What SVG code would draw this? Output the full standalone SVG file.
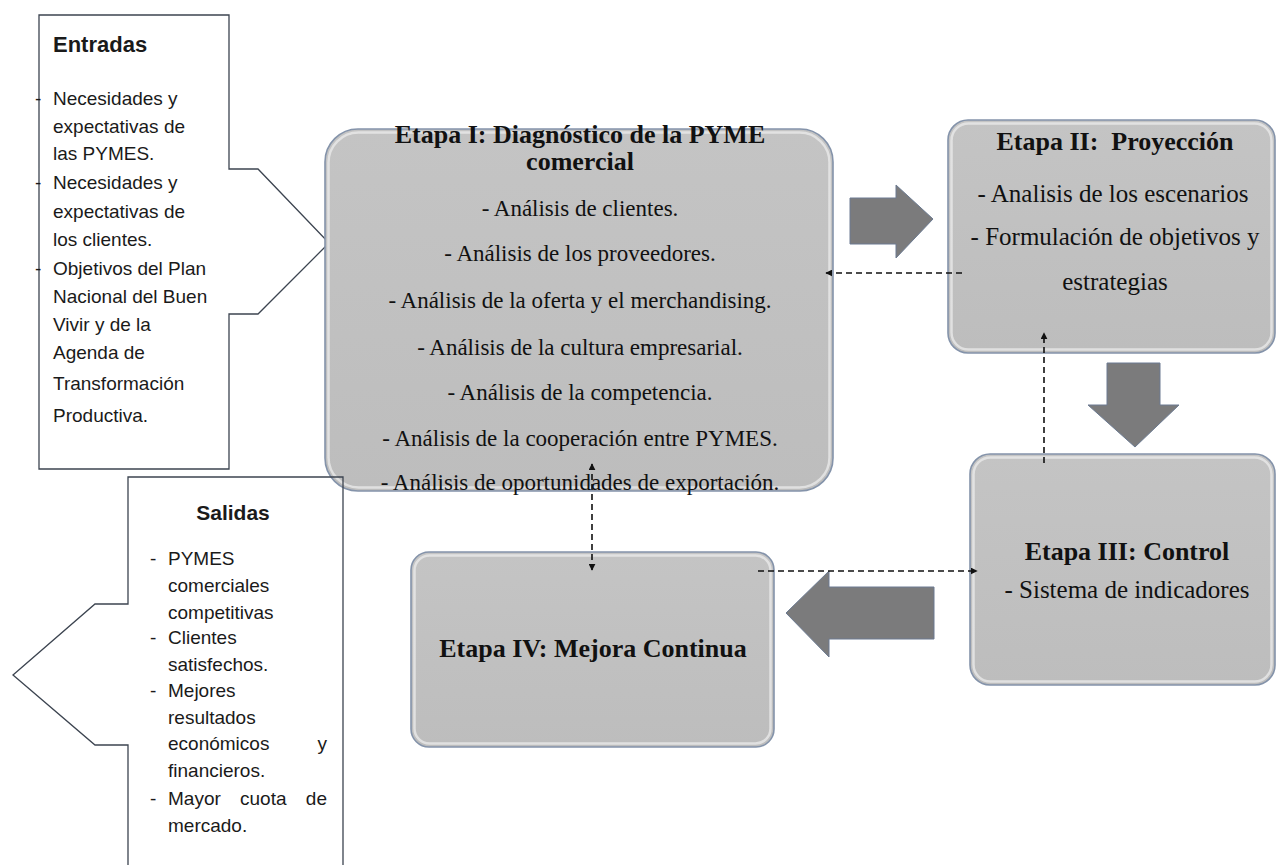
<svg xmlns="http://www.w3.org/2000/svg" width="1277" height="865" viewBox="0 0 1277 865">
<defs>
<style>
.sans{font-family:"Liberation Sans",Arial,sans-serif;fill:#1a1a1a}
.serif{font-family:"Liberation Serif","Times New Roman",serif;fill:#111}
.ttl{font-weight:bold;font-size:26px}
.callout{fill:none;stroke:#3c4450;stroke-width:1.3}
.box{fill:url(#boxg);stroke:#8493aa;stroke-width:1.6}
.bevel{fill:none;stroke:#ececec;stroke-width:2.5;opacity:0.75}
.blk{fill:#7b7b7c;stroke:#6c7b92;stroke-width:1}
.dash{fill:none;stroke:#111;stroke-width:1.6;stroke-dasharray:6,4}
</style>
<linearGradient id="boxg" x1="0" y1="0" x2="0" y2="1">
<stop offset="0" stop-color="#c4c4c4"/>
<stop offset="1" stop-color="#bdbdbd"/>
</linearGradient>
<marker id="ah" viewBox="0 0 10 10" refX="9" refY="5" markerWidth="7" markerHeight="7" markerUnits="userSpaceOnUse" orient="auto-start-reverse">
<path d="M0,0 L10,5 L0,10 z" fill="#111"/>
</marker>
</defs>

<g id="entradas">
<path class="callout" d="M39,15 L229,15 L229,169 L258,169 L329,243 L258,314 L229,314 L229,469 L39,469 Z"/>
<text class="sans" x="53" y="52" font-size="22" font-weight="bold">Entradas</text>
<g class="sans" font-size="19">
<text x="35" y="105">-</text>
<text x="53" y="105">Necesidades y</text>
<text x="53" y="133">expectativas de</text>
<text x="53" y="160">las PYMES.</text>
<text x="35" y="189">-</text>
<text x="53" y="189">Necesidades y</text>
<text x="53" y="218">expectativas de</text>
<text x="53" y="246">los clientes.</text>
<text x="35" y="275">-</text>
<text x="53" y="275">Objetivos del Plan</text>
<text x="53" y="303">Nacional del Buen</text>
<text x="53" y="331">Vivir y de la</text>
<text x="53" y="359">Agenda de</text>
<text x="53" y="390">Transformación</text>
<text x="53" y="422">Productiva.</text>
</g>
</g>

<g id="etapa1">
<rect class="box" x="325" y="129" width="508" height="362" rx="33"/>
<rect class="bevel" x="328.5" y="132.5" width="501" height="355" rx="30"/>
<text class="serif ttl" x="580" y="143" text-anchor="middle">Etapa I: Diagnóstico de la PYME</text>
<text class="serif ttl" x="580" y="170" text-anchor="middle">comercial</text>
<g class="serif" font-size="23" text-anchor="middle">
<text x="580" y="216">- Análisis de clientes.</text>
<text x="580" y="261">- Análisis de los proveedores.</text>
<text x="580" y="308">- Análisis de la oferta y el merchandising.</text>
<text x="580" y="355">- Análisis de la cultura empresarial.</text>
<text x="580" y="400">- Análisis de la competencia.</text>
<text x="580" y="446">- Análisis de la cooperación entre PYMES.</text>
<text x="580" y="490">- Análisis de oportunidades de exportación.</text>
</g>
</g>

<g id="salidas">
<path class="callout" d="M128,865 L128,745 L95,745 L13,675 L95,604 L128,604 L128,477 L343,477 L343,865"/>
<text class="sans" x="233" y="520" font-size="21" font-weight="bold" text-anchor="middle">Salidas</text>
<g class="sans" font-size="19">
<text x="150" y="565">-</text>
<text x="168" y="565">PYMES</text>
<text x="168" y="592">comerciales</text>
<text x="168" y="619">competitivas</text>
<text x="150" y="644">-</text>
<text x="168" y="644">Clientes</text>
<text x="168" y="671">satisfechos.</text>
<text x="150" y="697">-</text>
<text x="168" y="697">Mejores</text>
<text x="168" y="724">resultados</text>
<text x="168" y="750">económicos</text>
<text x="327" y="750" text-anchor="end">y</text>
<text x="168" y="777">financieros.</text>
<text x="150" y="805">-</text>
<text x="168" y="805">Mayor</text>
<text x="240" y="805">cuota</text>
<text x="327" y="805" text-anchor="end">de</text>
<text x="168" y="832">mercado.</text>
</g>
</g>

<g id="etapa2">
<rect class="box" x="948" y="120" width="327" height="233" rx="20"/>
<rect class="bevel" x="951.5" y="123.5" width="320" height="226" rx="17"/>
<text class="serif ttl" x="1115" y="150" text-anchor="middle" xml:space="preserve">Etapa II:  Proyección</text>
<g class="serif" font-size="25" text-anchor="middle">
<text x="1113" y="202">- Analisis de los escenarios</text>
<text x="1115" y="245">- Formulación de objetivos y</text>
<text x="1115" y="290">estrategias</text>
</g>
</g>

<g id="etapa3">
<rect class="box" x="970" y="454" width="305" height="231" rx="20"/>
<rect class="bevel" x="973.5" y="457.5" width="298" height="224" rx="17"/>
<text class="serif ttl" x="1127" y="560" text-anchor="middle">Etapa III: Control</text>
<text class="serif" x="1127" y="598" font-size="25" text-anchor="middle">- Sistema de indicadores</text>
</g>

<g id="etapa4">
<rect class="box" x="411" y="552" width="363" height="195" rx="18"/>
<rect class="bevel" x="414.5" y="555.5" width="356" height="188" rx="15"/>
<text class="serif ttl" x="593" y="657" text-anchor="middle">Etapa IV: Mejora Continua</text>
</g>

<g id="connectors">
<path class="blk" d="M850,198 L896,198 L896,185 L933,219 L896,258 L896,244 L850,244 Z"/>
<path class="blk" d="M1107,363 L1160,363 L1160,405 L1179,405 L1135,447 L1088,405 L1107,405 Z"/>
<path class="blk" d="M934,587 L829,587 L829,571 L786,613 L829,657 L829,639 L934,639 Z"/>
<line class="dash" x1="962" y1="273" x2="826" y2="273" marker-end="url(#ah)"/>
<line class="dash" x1="1044" y1="463" x2="1044" y2="333" marker-end="url(#ah)"/>
<line class="dash" x1="592" y1="464" x2="592" y2="570" marker-start="url(#ah)" marker-end="url(#ah)"/>
<line class="dash" x1="758" y1="571" x2="977" y2="571" marker-end="url(#ah)"/>
</g>
</svg>
